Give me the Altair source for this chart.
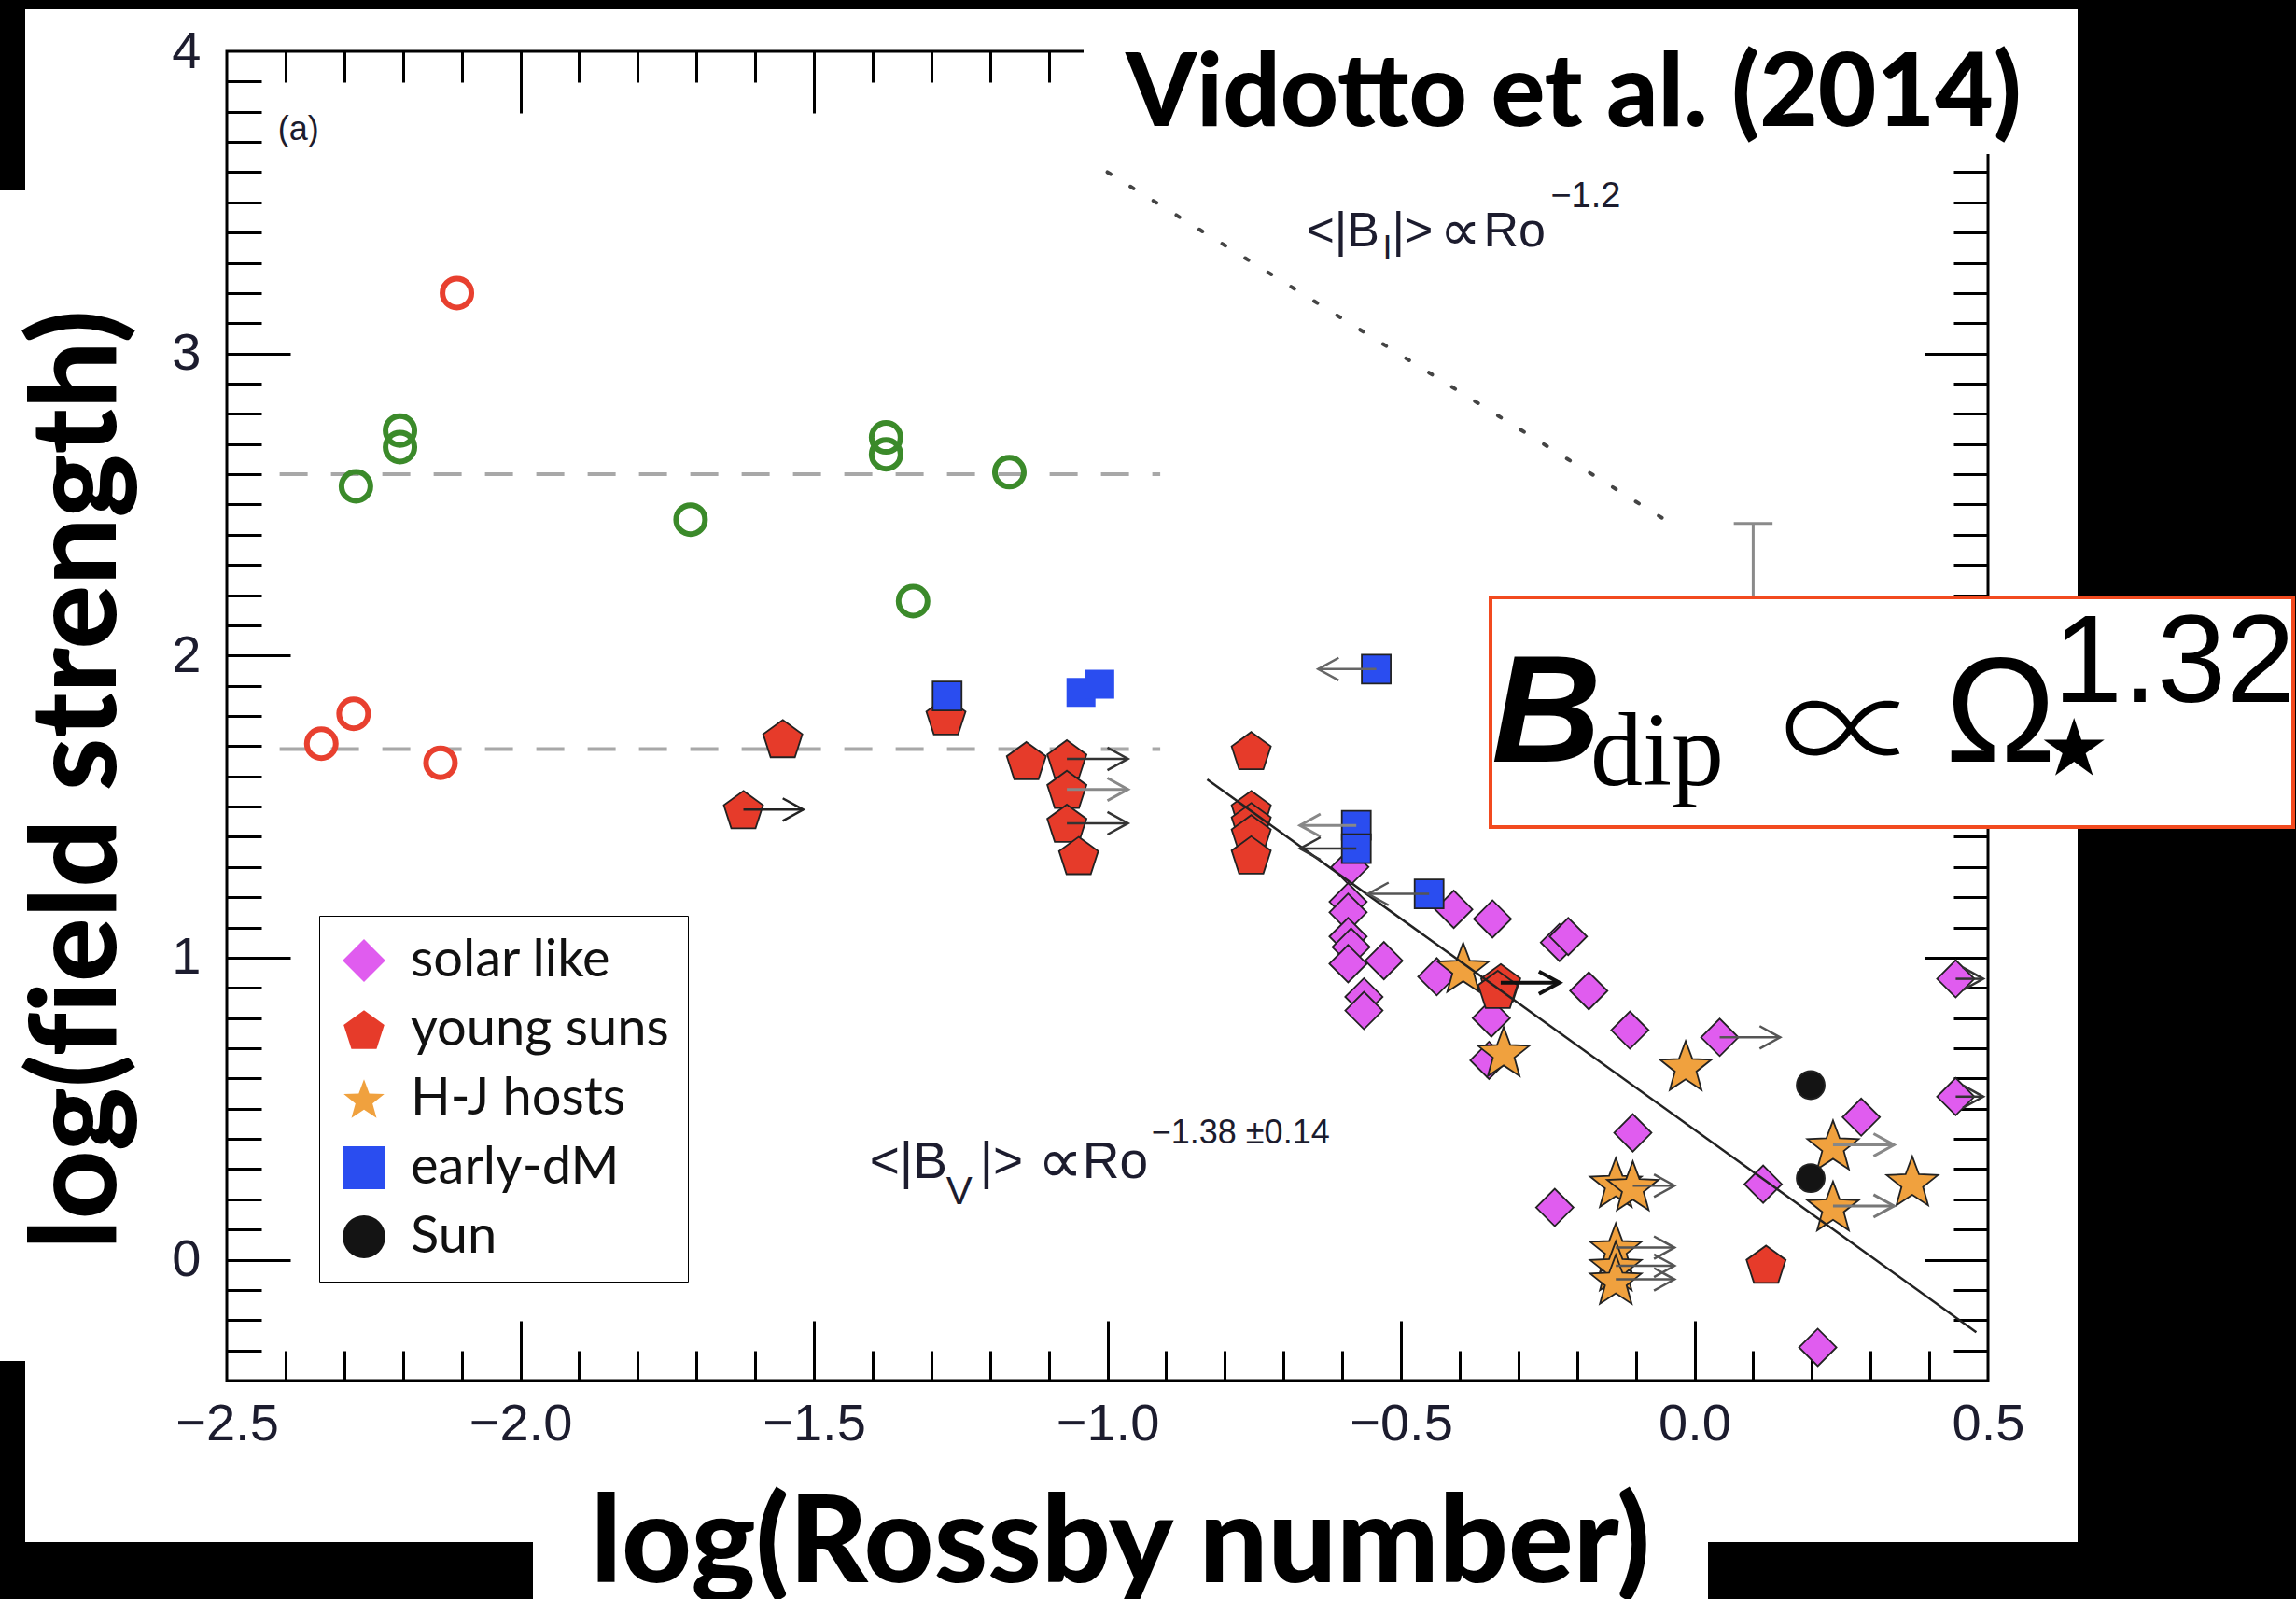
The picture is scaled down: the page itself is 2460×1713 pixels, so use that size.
import altair as alt
import pandas as pd
import numpy as np

# ---------------- data ----------------
groups = ["solar like", "young suns", "H-J hosts", "early-dM", "Sun"]

solar_x = [-0.587, -0.59, -0.59, -0.59, -0.585, -0.59, -0.529, -0.563, -0.563, -0.41, -0.344,
           -0.439, -0.23, -0.215, -0.18, -0.346, -0.35, -0.11, -0.105, -0.238, 0.043, 0.117,
           0.284, 0.21, 0.445, 0.445]
solar_y = [1.30, 1.185, 1.15, 1.07, 1.035, 0.98, 0.99, 0.87, 0.825, 1.16, 1.128,
           0.937, 1.05, 1.07, 0.89, 0.80, 0.66, 0.76, 0.42, 0.173, 0.736, 0.25,
           0.472, -0.29, 0.93, 0.54]

hj_x = [-0.394, -0.325, -0.015, -0.134, -0.105, -0.134, -0.134, -0.134, 0.236, 0.236, 0.371]
hj_y = [0.968, 0.689, 0.643, 0.256, 0.245, 0.04, -0.02, -0.065, 0.38, 0.178, 0.261]

young_x = [-1.62, -1.553, -1.275, -1.138, -1.069, -1.069, -1.069, -1.049, -0.755, -0.755,
           -0.755, -0.755, -0.755, -0.33, -0.335, 0.122]
young_y = [1.49, 1.725, 1.80, 1.652, 1.658, 1.557, 1.445, 1.338, 1.685, 1.49,
           1.45, 1.41, 1.34, 0.917, 0.895, -0.015]

dm_x = [-1.273, -0.542, -0.576, -0.576, -0.452]
dm_y = [1.866, 1.955, 1.438, 1.361, 1.211]
dm_plain_x = [-1.045, -1.013]
dm_plain_y = [1.878, 1.905]

sun_x = [0.198, 0.198]
sun_y = [0.578, 0.27]

green_x = [-2.28, -2.205, -2.205, -1.71, -1.377, -1.377, -1.167, -1.331]
green_y = [2.56, 2.745, 2.69, 2.45, 2.722, 2.666, 2.607, 2.18]
red_open_x = [-2.108, -2.284, -2.339, -2.136]
red_open_y = [3.20, 1.807, 1.708, 1.645]

# limit arrows: start, tip, y
arr_start = [-1.62, -1.069, -1.069, -1.069, -0.33, -0.542, -0.576, -0.576, -0.452,
             -0.105, -0.134, -0.134, -0.134, 0.236, 0.236, 0.043, 0.445, 0.445]
arr_tip = [-1.518, -0.965, -0.965, -0.965, -0.23, -0.641, -0.672, -0.672, -0.556,
           -0.034, -0.034, -0.034, -0.034, 0.34, 0.34, 0.146, 0.492, 0.492]
arr_y = [1.49, 1.658, 1.557, 1.445, 0.917, 1.955, 1.438, 1.361, 1.211,
         0.245, 0.04, -0.02, -0.065, 0.38, 0.178, 0.736, 0.93, 0.54]
arr_col = ["#222", "#333", "#888", "#333", "#111", "#666", "#888", "#333", "#555",
           "#555", "#555", "#555", "#555", "#888", "#777", "#555", "#333", "#333"]
arr_w = [2.5, 2.5, 3, 2.5, 4, 2.5, 3, 2.5, 2.5, 2.5, 2.5, 2.5, 2.5, 3, 3, 2.5, 2.5, 2.5]

dash_x1 = [-2.41, -2.41]
dash_x2 = [-0.91, -0.91]
dash_y = [2.6, 1.69]

fit_x = [-0.83, 0.48]
fit_y = [1.59, -0.24]

dot_x = [-1.0, -0.03]
dot_y = [3.60, 2.425]

err_x = [0.10]
err_lo = [2.0]
err_hi = [2.437]

# ---------------- layout / style ----------------
PL, PT, W, H = 243, 55, 1887, 1424
XS = alt.Scale(domain=[-2.5, 0.5], nice=False, zero=False)
YS = alt.Scale(domain=[-0.4, 4.0], nice=False, zero=False)
LABEL_FONT = "Liberation Sans"
TXT = "#1c1c2e"

MARK_SIZE = {"solar like": 1600, "young suns": 1950, "H-J hosts": 3340, "early-dM": 961, "Sun": 900}


def pentagon_path():
    pts = []
    for k in range(5):
        a = np.deg2rad(-90 + 72 * k)
        pts.append((np.cos(a), np.sin(a) + 0.095))
    return "M" + " L".join(f"{x:.3f},{y:.3f}" for x, y in pts) + " Z"


def star_path(ri=0.42):
    pts = []
    for k in range(10):
        a = np.deg2rad(-90 + 36 * k)
        r = 1.0 if k % 2 == 0 else ri
        pts.append((r * np.cos(a), r * np.sin(a) + 0.095))
    return "M" + " L".join(f"{x:.3f},{y:.3f}" for x, y in pts) + " Z"


PENT = pentagon_path()
STAR = star_path()
HEAD = "M-1,-0.55 L0,0 L-1,0.55"

x_major = [-2.0, -1.5, -1.0, -0.5, 0.0]
x_minor = [k / 10 for k in range(-24, 5) if k % 5 != 0]
y_major = [0, 1, 2, 3]
y_minor = [k / 10 for k in range(-3, 40) if k % 10 != 0]


def tick_ax(orient, vals, L):
    return alt.Axis(orient=orient, values=vals, offset=-L, tickSize=L, ticks=True, labels=False,
                    domain=False, grid=False, title=None, tickColor="black", tickWidth=3)


x_lab_ax = alt.Axis(orient="bottom", values=[-2.5, -2.0, -1.5, -1.0, -0.5, 0.0, 0.5], format=".1f",
                    ticks=False, tickSize=0, domain=False, grid=False, labelFont=LABEL_FONT,
                    labelFontSize=56, labelColor=TXT, labelPadding=19, labelFlush=False,
                    labelOverlap=False, title="log(Rossby number)", titleFont="Lato",
                    titleFontWeight=900, titleFontSize=130, titleColor="black", titleX=957,
                    titleY=215, titleAlign="center", titleBaseline="alphabetic")
y_lab_ax = alt.Axis(orient="left", values=[0, 1, 2, 3, 4], format="d", ticks=False, tickSize=0,
                    domain=False, grid=False, labelFont=LABEL_FONT, labelFontSize=56,
                    labelColor=TXT, labelPadding=28, labelFlush=False, labelOverlap=False,
                    title="log(f\u200cield strength)", titleFont="Lato", titleFontWeight=900,
                    titleFontSize=128, titleColor="black", titleAngle=270, titleX=-158,
                    titleY=780, titleAlign="center", titleBaseline="middle")

# ---------------- layers ----------------
blk_x0 = [0, 0, 0, 0, 1830, 2226]
blk_x1 = [2460, 27, 27, 571, 2460, 2460]
blk_y0 = [0, 0, 1458, 1652, 1652, 0]
blk_y1 = [10, 204, 1713, 1713, 1713, 1713]
black = alt.Chart(pd.DataFrame({"x0": [v - PL for v in blk_x0], "x1": [v - PL for v in blk_x1],
                                "y0": [v - PT for v in blk_y0], "y1": [v - PT for v in blk_y1]})).mark_rect(
    color="black").encode(x=alt.X("x0:Q", scale=None, axis=None), x2="x1:Q",
                          y=alt.Y("y0:Q", scale=None, axis=None), y2="y1:Q")

dash = alt.Chart(pd.DataFrame({"x1": dash_x1, "x2": dash_x2, "y": dash_y})).mark_rule(
    color="#a8a8a8", strokeWidth=4, strokeDash=[30, 25]).encode(
    x=alt.X("x1:Q", scale=XS, axis=x_lab_ax), x2="x2:Q",
    y=alt.Y("y:Q", scale=YS, axis=y_lab_ax))

dotted = alt.Chart(pd.DataFrame({"x": dot_x, "y": dot_y})).mark_line(
    color="#444", strokeWidth=4, strokeDash=[4, 25], strokeCap="round").encode(
    x=alt.X("x:Q", scale=XS, axis=tick_ax("bottom", x_major, 64)),
    y=alt.Y("y:Q", scale=YS, axis=tick_ax("left", y_major, 68)))

errbar = alt.Chart(pd.DataFrame({"x": err_x, "lo": err_lo, "hi": err_hi})).mark_rule(
    color="#8a8a8a", strokeWidth=3).encode(
    x=alt.X("x:Q", scale=XS, axis=tick_ax("top", x_major, 66)),
    y=alt.Y("lo:Q", scale=YS, axis=tick_ax("right", y_major, 68)), y2="hi:Q")

errcap = alt.Chart(pd.DataFrame({"a": [err_x[0] - 0.033], "b": [err_x[0] + 0.033], "y": err_hi})).mark_rule(
    color="#8a8a8a", strokeWidth=3).encode(
    x=alt.X("a:Q", scale=XS, axis=tick_ax("top", x_minor, 33)), x2="b:Q",
    y=alt.Y("y:Q", scale=YS, axis=tick_ax("right", y_minor, 37)))


def open_circles(xs, ys, col):
    return alt.Chart(pd.DataFrame({"x": xs, "y": ys})).mark_point(
        shape="circle", filled=False, size=960, strokeWidth=6, color=col, opacity=1).encode(
        x=alt.X("x:Q", scale=XS, axis=None), y=alt.Y("y:Q", scale=YS, axis=None))


green = open_circles(green_x, green_y, "#3b8a2a")
redo = open_circles(red_open_x, red_open_y, "#e8402f")

pts = pd.concat([
    pd.DataFrame({"x": solar_x, "y": solar_y, "group": "solar like"}),
    pd.DataFrame({"x": hj_x, "y": hj_y, "group": "H-J hosts"}),
    pd.DataFrame({"x": young_x, "y": young_y, "group": "young suns"}),
    pd.DataFrame({"x": dm_x, "y": dm_y, "group": "early-dM"}),
    pd.DataFrame({"x": sun_x, "y": sun_y, "group": "Sun"}),
], ignore_index=True)
pts["order"] = range(len(pts))
pts["sz"] = pts["group"].map(MARK_SIZE)

leg = alt.Legend(orient="none", legendX=99, legendY=926, title=None, labelFont="Lato",
                 labelFontSize=56, labelColor="#111", labelLimit=600, labelOffset=22,
                 padding=20, rowPadding=18, fillColor="white", strokeColor="black",
                 symbolStrokeColor="#222", symbolStrokeWidth=1.5, symbolOpacity=1,
                 symbolSize=2100)

plain_sq = alt.Chart(pd.DataFrame({"x": dm_plain_x, "y": dm_plain_y})).mark_point(
    shape="square", filled=True, size=961, color="#2a4df0", opacity=1).encode(
    x=alt.X("x:Q", scale=XS, axis=None), y=alt.Y("y:Q", scale=YS, axis=None))

points = alt.Chart(pts).mark_point(filled=True, opacity=1, stroke="#222", strokeWidth=1.8).encode(
    x=alt.X("x:Q", scale=XS, axis=None),
    y=alt.Y("y:Q", scale=YS, axis=None),
    shape=alt.Shape("group:N", scale=alt.Scale(domain=groups, range=["diamond", PENT, STAR, "square", "circle"]), legend=leg),
    fill=alt.Fill("group:N", scale=alt.Scale(domain=groups, range=["#e05cef", "#e63b2a", "#f0a13e", "#2a4df0", "#141414"]), legend=leg),
    size=alt.Size("sz:Q", scale=None),
    order=alt.Order("order:Q"),
)

fit = alt.Chart(pd.DataFrame({"x": fit_x, "y": fit_y})).mark_line(color="#222", strokeWidth=2.5).encode(
    x=alt.X("x:Q", scale=XS, axis=tick_ax("bottom", x_minor, 32)),
    y=alt.Y("y:Q", scale=YS, axis=tick_ax("left", y_minor, 37)))

arr_df = pd.DataFrame({"xs": arr_start, "xt": arr_tip, "y": arr_y, "col": arr_col, "w": arr_w})
arr_df["ang"] = [0 if t > s else 180 for s, t in zip(arr_start, arr_tip)]
shafts = alt.Chart(arr_df).mark_rule().encode(
    x=alt.X("xs:Q", scale=XS, axis=None), x2="xt:Q", y=alt.Y("y:Q", scale=YS, axis=None),
    color=alt.Color("col:N", scale=None), strokeWidth=alt.StrokeWidth("w:Q", scale=None))
heads = alt.Chart(arr_df).mark_point(shape=HEAD, filled=False, size=1936, opacity=1).encode(
    x=alt.X("xt:Q", scale=XS, axis=None), y=alt.Y("y:Q", scale=YS, axis=None),
    angle=alt.Angle("ang:Q", scale=None), color=alt.Color("col:N", scale=None),
    strokeWidth=alt.StrokeWidth("w:Q", scale=None))


def piece(ax, ay, txt, dx, dy, size, font="Liberation Sans, DejaVu Sans"):
    return alt.Chart(pd.DataFrame({"x": [ax], "y": [ay], "t": [txt]})).mark_text(
        align="left", baseline="alphabetic", dx=dx, dy=dy, fontSize=size, font=font, color=TXT).encode(
        x=alt.X("x:Q", scale=XS, axis=None), y=alt.Y("y:Q", scale=YS, axis=None), text="t:N")


# annotation anchors (data coordinates)
bi = (-0.6615, 3.355)
bv = (-1.405, 0.272)
texts = [
    piece(-2.413, 3.706, "(a)", 0, 0, 36),
    piece(*bi, "<|B", 0, 0, 52), piece(*bi, "I", 82, 14, 36), piece(*bi, "|>", 92, 0, 52),
    piece(*bi, "∝", 143, 4, 62, "DejaVu Sans"), piece(*bi, "Ro", 190, 0, 52), piece(*bi, "−1.2", 262, -42, 38),
    piece(*bv, "<|B", 0, 0, 55), piece(*bv, "V", 82, 28, 42), piece(*bv, "|>", 118, 0, 55),
    piece(*bv, "∝", 180, 5, 68, "DejaVu Sans"), piece(*bv, "Ro", 228, 0, 55),
    piece(*bv, "−1.38 ±0.14", 302, -37, 36),
]

one = pd.DataFrame({"t": [""]})


def ftext(txt, px, py, size, font, style="normal", weight="normal", color="black", align="left"):
    return alt.Chart(pd.DataFrame({"t": [txt]})).mark_text(
        align=align, baseline="alphabetic", fontSize=size, font=font, fontStyle=style,
        fontWeight=weight, color=color).encode(x=alt.value(px - PL), y=alt.value(py - PT), text="t:N")


formula_box = alt.Chart(one).mark_rect(fill="white", stroke="#f24a1f", strokeWidth=4).encode(
    x=alt.value(1597 - PL), x2=alt.value(2457 - PL), y=alt.value(640 - PT), y2=alt.value(886 - PT))
formula = [
    ftext("B", 1598, 816, 163, "Liberation Sans", style="italic", weight="bold"),
    ftext("dip", 1704, 841, 112, "Liberation Serif"),
    ftext("∝", 1908, 836, 150, "Noto Sans CJK JP", weight=300),
    ftext("Ω", 2084, 816, 159, "Liberation Sans"),
    ftext("⋆", 2169, 856, 170, "DejaVu Sans"),
    ftext("1.32", 2200, 752, 133, "Liberation Sans"),
]

title_box = alt.Chart(one).mark_rect(fill="white").encode(
    x=alt.value(1161 - PL), x2=alt.value(2226 - PL), y=alt.value(10 - PT), y2=alt.value(165 - PT))
title = ftext("Vidotto et al. (2014)", 1686, 135, 108, "Lato", weight=900, align="center")

chart = alt.layer(
    black, dash, dotted, errbar, errcap, green, redo, points, plain_sq, fit, shafts, heads,
    *texts, formula_box, *formula, title_box, title
).resolve_axis(x="independent", y="independent").properties(
    width=W, height=H,
    padding={"left": PL, "top": PT, "right": 2460 - PL - W, "bottom": 1713 - PT - H},
    autosize=alt.AutoSizeParams(type="none"),
    background="white",
).configure_view(stroke="black", strokeWidth=3)

chart.save("out.html", embed_options={"renderer": "svg", "actions": False})
